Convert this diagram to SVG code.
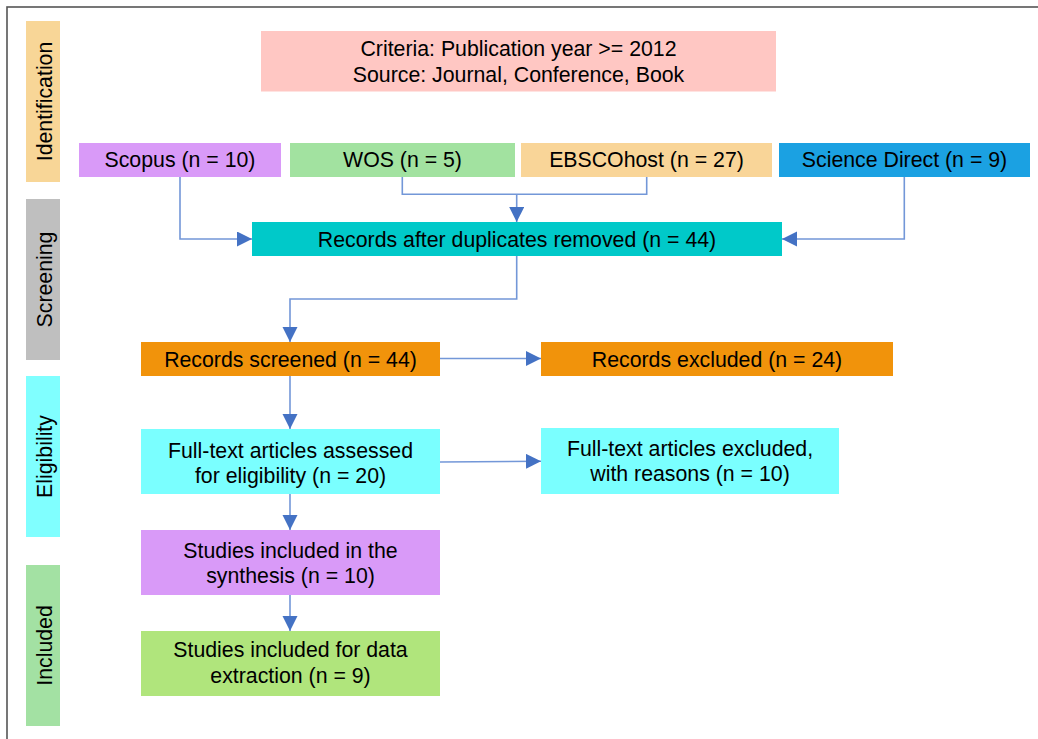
<svg xmlns="http://www.w3.org/2000/svg" width="1038" height="739" viewBox="0 0 1038 739">
<style>
text{font-family:"Liberation Sans",Arial,sans-serif;font-size:21.3px;fill:#000;text-anchor:middle}
.conn{fill:none;stroke:#7397D8;stroke-width:1.6}
</style>
<defs>
<marker id="arr" markerUnits="userSpaceOnUse" markerWidth="16" markerHeight="16" viewBox="0 0 16 16" refX="15" refY="7.5" orient="auto">
<path d="M0,0 L15,7.5 L0,15 Z" fill="#4472C4"/>
</marker>
</defs>
<rect x="7" y="7" width="1100" height="800" fill="#fff" stroke="#555" stroke-width="1.6"/>
<g id="phase-identification"><rect x="26" y="21" width="34" height="161" fill="#F8D697"/><text transform="translate(52,101.5) rotate(-90)">Identification</text></g>
<g id="phase-screening"><rect x="26" y="199" width="34" height="161" fill="#BFBFBF"/><text transform="translate(52,279.5) rotate(-90)">Screening</text></g>
<g id="phase-eligibility"><rect x="26" y="376" width="34" height="161" fill="#80FFFF"/><text transform="translate(52,456.5) rotate(-90)">Eligibility</text></g>
<g id="phase-included"><rect x="26" y="565" width="34" height="161" fill="#A3E1A3"/><text transform="translate(52,645.5) rotate(-90)">Included</text></g>

<g id="criteria"><rect x="261" y="31" width="515" height="60.5" fill="#FFC7C3"/><text x="518.5" y="56">Criteria: Publication year &gt;= 2012</text><text x="518.5" y="81.5">Source: Journal, Conference, Book</text></g>
<g id="scopus"><rect x="79" y="143" width="202" height="34" fill="#D99AF8"/><text x="180" y="167">Scopus (n = 10)</text></g>
<g id="wos"><rect x="290" y="143" width="225" height="34" fill="#A2E2A0"/><text x="402.5" y="167">WOS (n = 5)</text></g>
<g id="ebsco"><rect x="521" y="143" width="251" height="34" fill="#F9D598"/><text x="646.5" y="167">EBSCOhost (n = 27)</text></g>
<g id="sciencedirect"><rect x="779" y="143" width="251" height="34" fill="#1BA1E2"/><text x="904.5" y="167">Science Direct (n = 9)</text></g>
<g id="dedup"><rect x="252" y="222" width="530" height="34" fill="#00C9C9"/><text x="517" y="247">Records after duplicates removed (n = 44)</text></g>
<g id="screened"><rect x="141" y="342" width="299" height="34" fill="#F1930B"/><text x="290.5" y="366.5">Records screened (n = 44)</text></g>
<g id="excluded"><rect x="541" y="342" width="352" height="34" fill="#F1930B"/><text x="717" y="366.5">Records excluded (n = 24)</text></g>
<g id="fulltext"><rect x="141" y="429" width="299" height="65" fill="#7AFFFF"/><text x="290.5" y="458">Full-text articles assessed</text><text x="290.5" y="483">for eligibility (n = 20)</text></g>
<g id="fulltext-excluded"><rect x="541" y="428" width="298" height="66" fill="#7AFFFF"/><text x="690" y="456">Full-text articles excluded,</text><text x="690" y="481">with reasons (n = 10)</text></g>
<g id="synthesis"><rect x="141" y="530" width="299" height="65" fill="#D99AF8"/><text x="290.5" y="558">Studies included in the</text><text x="290.5" y="583">synthesis (n = 10)</text></g>
<g id="extraction"><rect x="141" y="631" width="299" height="65" fill="#B0E57C"/><text x="290.5" y="657">Studies included for data</text><text x="290.5" y="683">extraction (n = 9)</text></g>

<g id="connectors">
<path class="conn" d="M180,177 V239 H252" marker-end="url(#arr)"/>
<path class="conn" d="M402.3,177 V194.3 H646.7 V177"/>
<path class="conn" d="M516.7,194.3 V222" marker-end="url(#arr)"/>
<path class="conn" d="M904.3,177 V239 H782" marker-end="url(#arr)"/>
<path class="conn" d="M516.7,256 V299 H290 V342" marker-end="url(#arr)"/>
<path class="conn" d="M440,358.5 H541" marker-end="url(#arr)"/>
<path class="conn" d="M290,376 V429" marker-end="url(#arr)"/>
<path class="conn" d="M440,462 L541,461.2" marker-end="url(#arr)"/>
<path class="conn" d="M290,494 V530" marker-end="url(#arr)"/>
<path class="conn" d="M290,595 V631" marker-end="url(#arr)"/>
</g>
</svg>
